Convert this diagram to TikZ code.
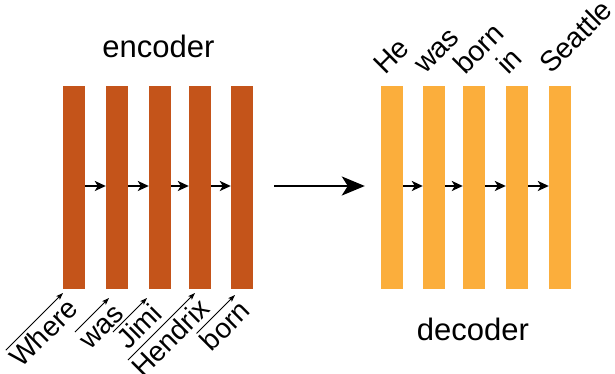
\documentclass[tikz,border=0pt]{standalone}
\usepackage{fontspec}
\setmainfont{Liberation Sans}
\usetikzlibrary{arrows.meta}
\definecolor{encfill}{RGB}{196,84,26}
\definecolor{decfill}{RGB}{251,174,60}

\begin{document}
\begin{tikzpicture}[x=1pt,y=1pt,
  encbar/.style={fill=encfill, draw=none, inner sep=0pt, minimum width=22pt, minimum height=203pt},
  decbar/.style={fill=decfill, draw=none, inner sep=0pt, minimum width=22pt, minimum height=203pt},
  link/.style={line width=2pt, -{Stealth[length=11pt,width=10pt,inset=3pt]}},
  bigarrow/.style={line width=2.2pt, -{Stealth[length=23pt,width=19pt,inset=6pt]}},
  inword/.style={font=\fontsize{28}{28}\selectfont, rotate=45, anchor=north east,
    text height=23pt, text depth=0pt, inner xsep=0.5pt, inner ysep=1pt},
  outword/.style={font=\fontsize{28.5}{28.5}\selectfont, rotate=45, anchor=base west, inner sep=0pt},
  pointer/.style={line width=1pt, shorten <=3pt, -{Stealth[length=7pt,width=5pt,inset=1.5pt]}},
  title/.style={font=\fontsize{31}{31}\selectfont, anchor=base, inner sep=0pt}]
\useasboundingbox (0,0) rectangle (615,374);

% encoder states
\node[encbar] (e1) at (74,186.5) {};
\node[encbar] (e2) at (117,186.5) {};
\node[encbar] (e3) at (160,186.5) {};
\node[encbar] (e4) at (200,186.5) {};
\node[encbar] (e5) at (242,186.5) {};

% decoder states
\node[decbar] (d1) at (392,186.5) {};
\node[decbar] (d2) at (434,186.5) {};
\node[decbar] (d3) at (474,186.5) {};
\node[decbar] (d4) at (517,186.5) {};
\node[decbar] (d5) at (560,186.5) {};

% recurrent links
\foreach \a/\b in {e1/e2,e2/e3,e3/e4,e4/e5,d1/d2,d2/d3,d3/d4,d4/d5}
  \draw[link] ([yshift=1.5pt]\a.east) -- ([yshift=1.5pt]\b.west);

% encoder to decoder
\draw[bigarrow, shorten <=21pt, shorten >=16pt] ([yshift=1.5pt]e5.east) -- ([yshift=1.5pt]d1.west);

% titles
\node[title] (enc) at (158.5,316) {encoder};
\node[title] (dec) at (473,33) {decoder};

% input words with pointers to their states
\node[inword] (w1) at (63,81) {Where};
\node[inword] (w2) at (109,76) {was};
\node[inword] (w3) at (147,76) {Jimi};
\node[inword] (w4) at (195,81) {Hendrix};
\node[inword] (w5) at (235,79) {born};
\foreach \w in {w1,w2,w3,w4,w5}
  \draw[pointer] (\w.north west) -- (\w.north east);

% output words
\node[outword] (o1) at (385,298) {He};
\node[outword] (o2) at (425,299) {was};
\node[outword] (o3) at (465,298) {born};
\node[outword] (o4) at (508,298) {in};
\node[outword] (o5) at (551,299) {Seattle};
\end{tikzpicture}
\end{document}
